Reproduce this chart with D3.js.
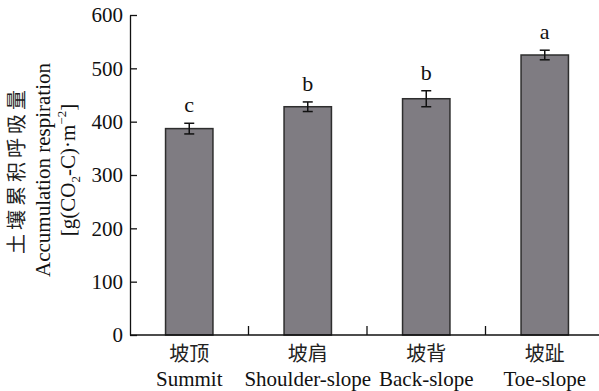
<!DOCTYPE html>
<html>
<head>
<meta charset="utf-8">
<script src="https://cdn.jsdelivr.net/npm/d3@7"></script>
<style>
  body { margin: 0; background: #fff; }
  svg { display: block; }
  text { font-family: "Liberation Serif", "Times New Roman", serif; fill: #111; }
  .cjk { font-family: "Noto Sans CJK SC", sans-serif; fill: #222; }
</style>
</head>
<body>
<div id="chart"></div>
<script>
// data
const categoriesZh = ['坡顶', '坡肩', '坡背', '坡趾']
const categoriesEn = ['Summit', 'Shoulder-slope', 'Back-slope', 'Toe-slope']
const respiration = [387, 428, 443, 525]
const errors = [10, 9, 15, 9]
const letters = ['c', 'b', 'b', 'a']
const yTicks = [0, 100, 200, 300, 400, 500, 600]

const W = 599
const H = 391
const margin = { left: 130, top: 15, bottom: 56 }

const svg = d3.select('#chart').append('svg')
  .attr('width', W)
  .attr('height', H)

const x = d3.scaleBand()
  .domain(categoriesEn)
  .range([margin.left, margin.left + 474])
  .paddingInner(0.6)
  .paddingOuter(0.3)

const y = d3.scaleLinear()
  .domain([0, 600])
  .range([H - margin.bottom, margin.top])

// bars
svg.append('g')
  .selectAll('rect')
  .data(respiration)
  .enter()
  .append('rect')
  .attr('x', (d, i) => x(categoriesEn[i]))
  .attr('y', d => y(d))
  .attr('width', x.bandwidth())
  .attr('height', d => y(0) - y(d))
  .attr('fill', '#7f7c82')
  .attr('stroke', '#2e2e2e')
  .attr('stroke-width', 1.5)

// error bars
const cx = i => x(categoriesEn[i]) + x.bandwidth() / 2
const err = svg.append('g').attr('stroke', '#111').attr('stroke-width', 1.5)
respiration.forEach((v, i) => {
  err.append('line')
    .attr('x1', cx(i)).attr('x2', cx(i))
    .attr('y1', y(v - errors[i])).attr('y2', y(v + errors[i]))
  ;[v - errors[i], v + errors[i]].forEach(e => {
    err.append('line')
      .attr('x1', cx(i) - 5).attr('x2', cx(i) + 5)
      .attr('y1', y(e)).attr('y2', y(e))
  })
})

// significance letters
svg.append('g')
  .selectAll('text')
  .data(letters)
  .enter()
  .append('text')
  .attr('x', (d, i) => cx(i))
  .attr('y', (d, i) => y(respiration[i] + errors[i]) - 11)
  .attr('text-anchor', 'middle')
  .attr('font-size', 22)
  .text(d => d)

// y axis, ticks pointing inward
const yAxis = svg.append('g')
  .attr('transform', `translate(${margin.left},0)`)
  .call(d3.axisLeft(y).tickValues(yTicks).tickSizeInner(-7).tickSizeOuter(0).tickPadding(7))
yAxis.selectAll('text')
  .attr('font-size', 21)
  .attr('font-family', '"Liberation Serif", serif')
  .attr('fill', '#111')
yAxis.selectAll('line, path').attr('stroke', '#111').attr('stroke-width', 1.3)

// x axis line
svg.append('line')
  .attr('x1', margin.left).attr('x2', W)
  .attr('y1', y(0)).attr('y2', y(0))
  .attr('stroke', '#111')
  .attr('stroke-width', 1.3)

// separator ticks between categories
svg.append('g')
  .selectAll('line')
  .data(categoriesEn.slice(0, -1))
  .enter()
  .append('line')
  .attr('x1', d => x(d) + x.bandwidth() / 2 + x.step() / 2)
  .attr('x2', d => x(d) + x.bandwidth() / 2 + x.step() / 2)
  .attr('y1', y(0))
  .attr('y2', y(0) - 9)
  .attr('stroke', '#111')
  .attr('stroke-width', 1.3)

// category labels
const labels = svg.append('g')
labels.selectAll('text.zh')
  .data(categoriesZh)
  .enter()
  .append('text')
  .attr('class', 'cjk zh')
  .attr('x', (d, i) => cx(i))
  .attr('y', 361)
  .attr('text-anchor', 'middle')
  .attr('font-size', 20)
  .text(d => d)
labels.selectAll('text.en')
  .data(categoriesEn)
  .enter()
  .append('text')
  .attr('class', 'en')
  .attr('x', (d, i) => cx(i))
  .attr('y', 386)
  .attr('text-anchor', 'middle')
  .attr('font-size', 21)
  .text(d => d)

// y axis title, three rotated lines
const title = svg.append('g')
  .attr('transform', 'translate(0,170) rotate(-90)')
  .attr('text-anchor', 'middle')
title.append('text')
  .attr('class', 'cjk')
  .attr('x', 0).attr('y', 24)
  .attr('font-size', 20)
  .attr('letter-spacing', 4)
  .text('土壤累积呼吸量')
title.append('text')
  .attr('x', 0).attr('y', 50)
  .attr('font-size', 21)
  .text('Accumulation respiration')
const unit = title.append('text')
  .attr('x', 0).attr('y', 75)
  .attr('font-size', 21)
unit.append('tspan').text('[g(CO')
unit.append('tspan').attr('font-size', 13).attr('dy', 5).text('2')
unit.append('tspan').attr('dy', -5).text('-C)·m')
unit.append('tspan').attr('font-size', 13).attr('dy', -9).text('−2')
unit.append('tspan').attr('dy', 9).text(']')
</script>
</body>
</html>
